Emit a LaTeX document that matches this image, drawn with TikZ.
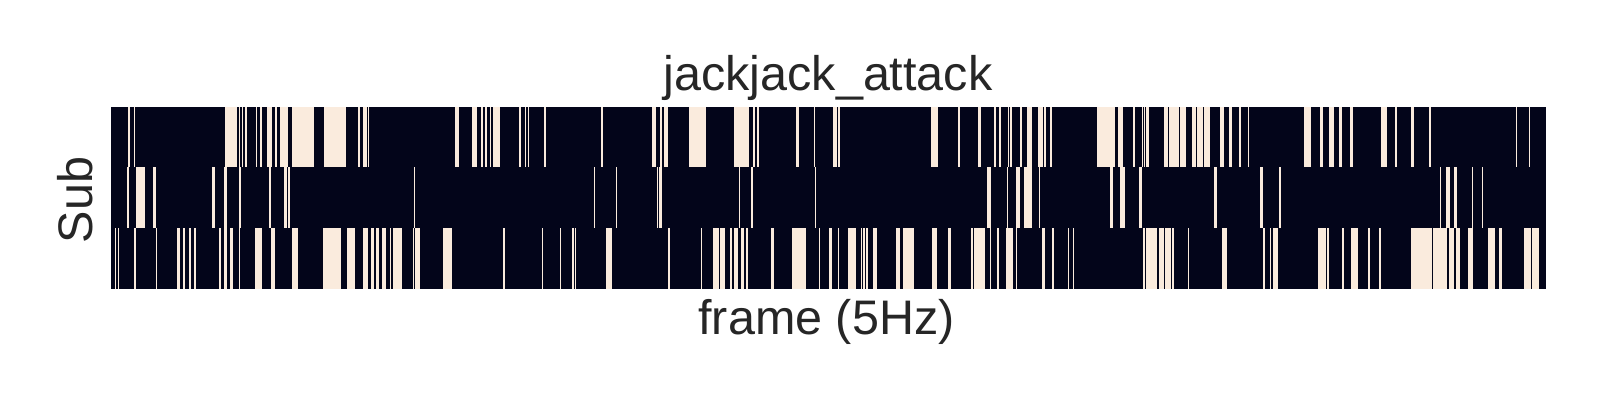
\documentclass[tikz,border=0pt]{standalone}
\usepackage{fontspec}
\setmainfont{Liberation Sans}
\definecolor{darkcell}{HTML}{03051A}
\definecolor{lightcell}{HTML}{FAEBDD}
\definecolor{labelgray}{HTML}{262626}
\begin{document}
\begin{tikzpicture}[x=1pt,y=-1pt,
  lbl/.style={inner sep=0pt,text=labelgray,font=\fontsize{48.5}{58}\selectfont},
  cell/.style={fill=lightcell}]
\useasboundingbox (0,0) rectangle (1600,400);
\fill[white] (0,0) rectangle (1600,400);
% heatmap background
\fill[darkcell] (111,106.7) rectangle (1546,288.7);
% row 1
\foreach \a/\b in {128.3/130.3,133.5/134.8,225.3/226.5,227/236.7,238.7/240,241.7/243.3,245.3/247.3,255.7/257.3,260/262,266.7/271.7,275.3/276.7,279.7/288.3,292.3/314,324/346,358/359.5,362.7/366.5,367.5/369,455.3/459,472/476.7,481/482.7,485.3/487.3,489.5/491,493.3/500,519.3/520.5,525/526.3,528/529.2,543.7/545.7,601/602.7,652/655.7,660/661.7,663.7/667.7,689/706,734/749.3,753.3/755.3,756.7/759,796/798.7,814/815.2,833.3/837.3,838.3/839.7,931/938,958/959.7,978/980.7,994/996,999/1001,1008/1009.2,1010/1011.7,1020/1022,1027/1032,1038/1043.3,1044.3/1046,1050/1052,1097/1115,1118/1123,1133/1135,1142/1143.2,1144/1145.3,1146/1149,1164/1168,1169/1179,1180/1186,1192/1196.3,1197/1203,1204/1210,1220/1224,1229/1232,1239/1241,1248/1249.2,1304/1311,1320/1323,1329/1334,1339/1342,1350/1353,1381/1387,1395/1397,1411/1414,1429/1431,1516/1517.2,1529/1530.2}
  \fill[cell] (\a,106.7) rectangle (\b,167.3);
% row 2
\foreach \a/\b in {127/129.3,135.7/145,152.7/156,212/215.3,224/227,239.3/240.5,269.3/270.5,284/286.7,288.3/290,414/415.2,594/595.2,615.7/617,657/658.2,659/662,739/740.2,751/752.7,815/816.2,987/991,1007/1008.2,1016/1020,1024/1032,1038.7/1040,1110/1113,1120/1125,1139/1142,1214/1217,1260/1263,1279/1280.7,1440/1441.2,1446/1450,1454/1457,1472/1473.2,1482/1483.2}
  \fill[cell] (\a,167.3) rectangle (\b,228);
% row 3
\foreach \a/\b in {115.2/116.3,117.5/118.7,134/135.8,155.8/157,177/179.5,183/185,188.5/191,193.8/195.5,218.8/220.5,224/226.8,230.3/233.3,238.7/240,255/262,271/275,292/298,323/341,347/355,363/368,371/374,376/379.3,382/386,390/391.2,393/402,413.3/414.3,415/420,443/452,503/505,542/543.2,560/561.2,572/573.7,574.7/576,606/611.7,668.3/670,701/702.2,713/719,720/725,730/732,734/738,740.7/744,745.7/747.7,771/774,792/806,819/820.2,829/832,838/839.2,847.7/856,861/862.2,863/865,866/868,873/877,896/900,903/914,932/937,948/951,971/972.7,974/985,990/991.2,997/999,1006/1013.3,1016/1017.2,1042/1045,1052/1054,1067.7/1068.9,1072.7/1074,1143/1145,1146/1157,1159/1164.3,1165/1171,1172.3/1174,1188/1189.2,1222/1227,1263/1265,1270/1271.2,1273/1278,1318/1326,1327.3/1328.7,1342.3/1343.7,1351/1358,1368.3/1369.5,1379.3/1380.5,1411/1432,1433.3/1446.7,1449/1454,1456.3/1460,1468/1473,1488/1495,1499/1501.7,1524/1531,1532.3/1539}
  \fill[cell] (\a,228) rectangle (\b,288.7);
% labels
\node[lbl,anchor=base] (title) at (828,90) {jackjack\_attack};
\node[lbl,anchor=base] (xlabel) at (826.5,334.5) {frame (5Hz)};
\node[lbl,anchor=base,rotate=90] (ylabel) at (92.7,200) {Sub};
\end{tikzpicture}
\end{document}
